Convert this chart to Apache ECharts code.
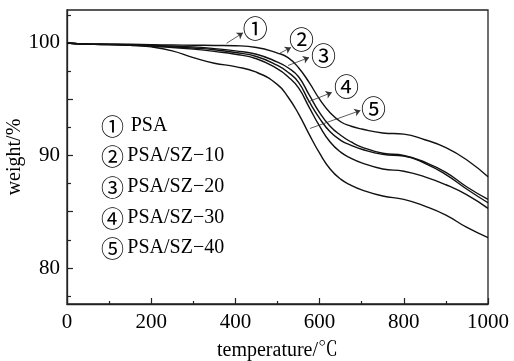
<!DOCTYPE html>
<html>
<head>
<meta charset="utf-8">
<script src="https://cdn.jsdelivr.net/npm/echarts@6/dist/echarts.min.js"></script>
<style>
  html, body { margin: 0; padding: 0; background: #fff; }
  #chart { width: 514px; height: 361px; }
</style>
</head>
<body>
<div id="chart"></div>
<script>
// temperature points (℃)
const temps = [0, 50, 100, 150, 200, 250, 300, 350, 400, 450, 500, 525, 550, 575, 600, 625, 650, 675, 700, 750, 800, 850, 900, 950, 1000];

// weight (%) of each sample
const psa    = [100, 99.9, 99.9, 99.88, 99.85, 99.82, 99.8, 99.78, 99.75, 99.6, 99.1, 98.7, 97.8, 96.5, 95.0, 93.8, 93.0, 92.6, 92.35, 92.0, 91.9, 91.4, 90.7, 89.6, 88.1];
const psaSz10 = [100, 99.9, 99.88, 99.85, 99.8, 99.72, 99.65, 99.5, 99.3, 99.0, 98.3, 97.8, 97.0, 95.4, 93.8, 92.6, 91.8, 91.2, 90.75, 90.2, 90.0, 89.4, 88.5, 87.2, 86.1];
const psaSz20 = [100, 99.9, 99.87, 99.83, 99.75, 99.65, 99.55, 99.4, 99.15, 98.8, 98.0, 97.4, 96.5, 94.8, 93.3, 92.1, 91.35, 90.9, 90.55, 90.1, 89.95, 89.3, 88.3, 87.0, 85.8];
const psaSz30 = [100, 99.9, 99.85, 99.8, 99.7, 99.6, 99.45, 99.25, 99.0, 98.6, 97.7, 97.0, 96.0, 94.3, 92.6, 91.2, 90.3, 89.75, 89.35, 88.8, 88.6, 88.1, 87.4, 86.5, 85.3];
const psaSz40 = [100, 99.9, 99.85, 99.8, 99.65, 99.3, 98.7, 98.2, 97.9, 97.4, 96.3, 95.2, 93.7, 91.9, 90.2, 88.8, 87.9, 87.35, 86.95, 86.4, 86.1, 85.5, 84.7, 83.6, 82.7];

const seriesNames = ["PSA", "PSA/SZ−10", "PSA/SZ−20", "PSA/SZ−30", "PSA/SZ−40"];
const seriesValues = [psa, psaSz10, psaSz20, psaSz30, psaSz40];
const marks = ["①", "②", "③", "④", "⑤"];

// axis ticks
const xTicks = [0, 200, 400, 600, 800, 1000];
const yMajorTicks = [80, 85, 90, 95, 100];
const yMinorTicks = [77.5, 82.5, 87.5, 92.5, 97.5, 102.5];
const yLabels = [80, 90, 100];

// arrows from each curve to its number: [tailT, tailW, headT, headW, numberT, numberW]
const arrows = [
  [379, 99.97, 418, 100.9, 447, 101.3],
  [506, 99.1, 532, 99.6, 557, 100.3],
  [525, 98.0, 575, 98.7, 609, 98.9],
  [572, 94.75, 629, 95.6, 664, 96.1],
  [577, 92.4, 697, 94.0, 728, 94.2]
];

const serif = "'Liberation Serif', 'Noto Serif CJK SC', 'Noto Sans CJK SC', serif";
const markFont = "'Noto Sans CJK SC', sans-serif";

const chart = echarts.init(document.getElementById("chart"));

const series = seriesValues.map((vals, i) => ({
  name: seriesNames[i],
  type: "line",
  smooth: true,
  showSymbol: false,
  symbol: "none",
  yAxisIndex: 0,
  lineStyle: { color: "#111", width: 1.4 },
  data: temps.map((t, k) => [t, vals[k]]),
  markLine: {
    silent: true,
    symbol: ["none", "arrow"],
    symbolSize: 6,
    label: { show: false },
    lineStyle: { color: "#333", width: 0.8, type: "solid" },
    data: [[
      { coord: [arrows[i][0], arrows[i][1]] },
      { coord: [arrows[i][2], arrows[i][3]] }
    ]]
  }
}));

chart.setOption({
  animation: false,
  grid: {
    left: 67, right: 26, top: 10, bottom: 57,
    outerBoundsMode: "none",
    containLabel: false,
    show: true, borderColor: "#222", borderWidth: 1.3
  },
  xAxis: {
    type: "value",
    min: 0, max: 1000, interval: 200,
    name: "temperature/℃",
    nameLocation: "middle",
    nameGap: 37,
    nameTextStyle: { fontFamily: serif, fontSize: 20, color: "#000" },
    axisLine: { lineStyle: { color: "#222", width: 1.3 } },
    axisTick: { inside: true, length: 6, lineStyle: { color: "#222", width: 1.2 } },
    minorTick: { show: true, splitNumber: 2, length: 3, lineStyle: { color: "#222", width: 1.2 } },
    axisLabel: {
      margin: 8, fontFamily: serif, fontSize: 21, color: "#000",
      customValues: xTicks,
      formatter: v => String(v)
    },
    splitLine: { show: false }
  },
  yAxis: [
    {
      type: "value",
      min: 76.8, max: 102.93,
      name: "weight/%",
      nameLocation: "middle",
      nameGap: 42,
      nameMoveOverlap: false,
      nameTextStyle: { fontFamily: serif, fontSize: 20, color: "#000" },
      axisLine: { show: true, lineStyle: { color: "#222", width: 1.3 } },
      axisTick: { inside: true, length: 6, customValues: yMajorTicks, lineStyle: { color: "#222", width: 1.2 } },
      axisLabel: { margin: 7, fontFamily: serif, fontSize: 21, color: "#000", customValues: yLabels },
      splitLine: { show: false }
    },
    {
      type: "value",
      min: 76.8, max: 102.93,
      position: "left",
      axisLine: { show: false },
      axisTick: { show: true, inside: true, length: 4, customValues: yMinorTicks, lineStyle: { color: "#222", width: 1.2 } },
      axisLabel: { show: false },
      splitLine: { show: false }
    }
  ],
  series: series
});

// numbers at the arrow heads and the key in the plot
function drawNotes() {
  const els = [];
  arrows.forEach((a, i) => {
    const p = chart.convertToPixel({ gridIndex: 0 }, [a[4], a[5]]);
    els.push({
      type: "text", x: p[0], y: p[1],
      style: {
        text: marks[i], fontFamily: markFont, fontSize: 25,
        fill: "#000", align: "center", verticalAlign: "middle"
      }
    });
  });
  const keyY = [126, 156, 187, 218, 248];
  seriesNames.forEach((n, i) => {
    els.push({
      type: "text", x: 101, y: keyY[i],
      style: {
        text: "{m|" + marks[i] + "}" + (i === 0 ? "  " : " ") + "{t|" + n + "}",
        verticalAlign: "middle",
        rich: {
          m: { fontFamily: markFont, fontSize: 23, fill: "#000" },
          t: { fontFamily: serif, fontSize: 20, fill: "#000" }
        }
      }
    });
  });
  chart.setOption({ graphic: els });
}
drawNotes();
</script>
</body>
</html>
